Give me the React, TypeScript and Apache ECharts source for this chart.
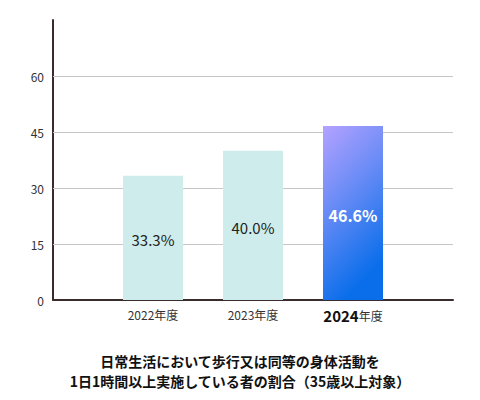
import React, { useEffect, useRef } from "react";
import * as echarts from "echarts";

const categories = ["", "2022年度", "2023年度", "2024年度", ""];
const values: (number | null)[] = [null, 33.3, 40.0, 46.6, null];
const yTicks = [15, 30, 45, 60];
const titleLines = [
  "日常生活において歩行又は同等の身体活動を",
  "1日1時間以上実施している者の割合（35歳以上対象）",
];

const FONT = "'Noto Sans CJK JP', 'Noto Sans', sans-serif";

export default function App() {
  const ref = useRef<HTMLDivElement>(null);
  useEffect(() => {
    if (!ref.current) return;
    const chart = echarts.init(ref.current, undefined, { renderer: "svg" });
    const highlight = 3;
    chart.setOption({
      animation: false,
      textStyle: { fontFamily: FONT },
      grid: { left: 53, right: 27, top: 20, bottom: 100 },
      title: {
        text: titleLines.join("\n"),
        left: "center",
        top: 346,
        textStyle: {
          fontFamily: FONT,
          fontSize: 14,
          fontWeight: "bold",
          color: "#111",
          lineHeight: 20,
        },
      },
      xAxis: {
        type: "category",
        data: categories,
        boundaryGap: false,
        axisLine: { show: true, lineStyle: { color: "#3a2c2c", width: 2 } },
        axisTick: { show: false },
        splitLine: { show: false },
        axisLabel: {
          margin: 8,
          interval: 0,
          color: "#333",
          fontSize: 12,
          formatter: (v: string, i: number) => {
            if (i === highlight) {
              const m = v.match(/^(\d+)(.*)$/);
              if (m) return `{b|${m[1]}}{n|${m[2]}}`;
            }
            return `{n|${v}}`;
          },
          rich: {
            b: { fontSize: 15, fontWeight: "bold", color: "#111", fontFamily: FONT },
            n: { fontSize: 12, color: "#333", fontFamily: FONT },
          },
        },
      },
      yAxis: {
        type: "value",
        min: 0,
        max: 75,
        interval: 15,
        axisLine: { show: true, lineStyle: { color: "#3a2c2c", width: 2 } },
        axisTick: { show: false },
        splitLine: { show: false },
        axisLabel: {
          color: "#333",
          fontSize: 12,
          margin: 9,
          showMaxLabel: false,
          formatter: (v: number) => (v === 75 ? "" : String(v)),
        },
      },
      series: [
        {
          type: "bar",
          barWidth: 60,
          z: 3,
          data: values.map((v, i) =>
            i === highlight
              ? {
                  value: v,
                  itemStyle: {
                    color: new echarts.graphic.LinearGradient(0, 0, 0.35, 1, [
                      { offset: 0, color: "#b4a2ff" },
                      { offset: 0.45, color: "#6b8cf6" },
                      { offset: 1, color: "#0a6eea" },
                    ]),
                  },
                  label: {
                    color: "#fff",
                    fontWeight: "bold",
                    fontSize: 16,
                  },
                }
              : { value: v }
          ),
          itemStyle: { color: "#cdeceb" },
          label: {
            show: true,
            position: "inside",
            offset: [0, 2],
            fontSize: 15,
            color: "#222",
            fontFamily: FONT,
            formatter: (p: any) => (p.value == null ? "" : `${Number(p.value).toFixed(1)}%`),
          },
          markLine: {
            silent: true,
            symbol: "none",
            label: { show: false },
            lineStyle: { color: "#c6c6c6", width: 1, type: "solid" },
            z: 1,
            data: yTicks.map((t) => ({ yAxis: t })),
          },
        },
      ],
    });
    return () => chart.dispose();
  }, []);
  return <div ref={ref} style={{ width: 480, height: 400, margin: -8 }} />;
}
